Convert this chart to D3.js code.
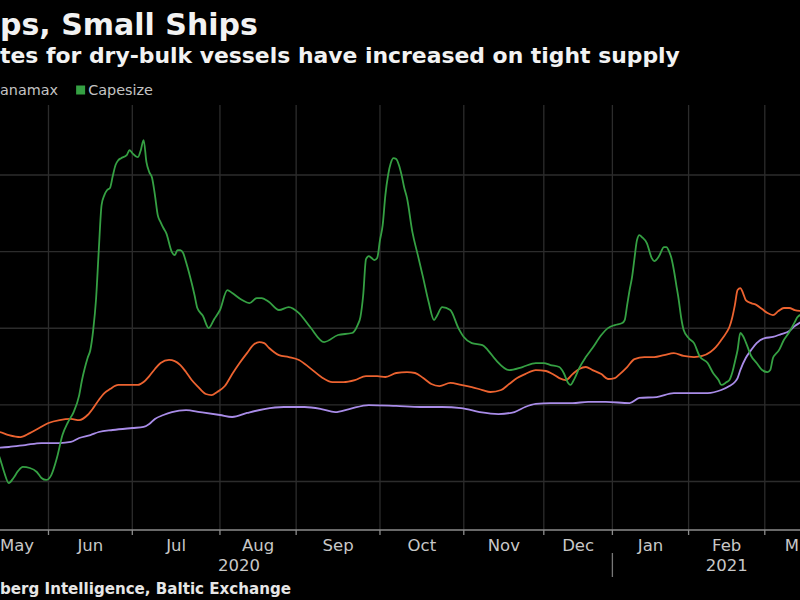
<!DOCTYPE html>
<html><head><meta charset="utf-8">
<script src="https://cdn.jsdelivr.net/npm/d3@7"></script>
<style>html,body{margin:0;padding:0;background:#000;overflow:hidden}svg{display:block}</style>
</head><body><svg id="c" width="800" height="600"></svg>
<script>
// ---- texts (visible part of the cropped chart) ----
const titleText = "ps, Small Ships";
const subtitleText = "tes for dry-bulk vessels have increased on tight supply";
const legendItems = [{name: "anamax", key: "panamax", swatch: false}, {name: "Capesize", key: "capesize", swatch: true}];
const sourceText = "berg Intelligence, Baltic Exchange";

// ---- x axis: month breakpoints and number of trading days to the next breakpoint ----
const axisBreaks = ["2020-03-19","2020-04-01","2020-05-01","2020-06-01","2020-07-01","2020-08-01","2020-09-01",
  "2020-10-01","2020-11-01","2020-12-01","2021-01-01","2021-02-01","2021-03-01","2021-03-29"];
const tradingDays = [9,20,19,22,23,20,22,22,21,18,20,20,20];
const yearSeparators = ["2021-01-01"];

// ---- y grid values (USD/day) ----
const yTicks = [5000,10000,15000,20000,25000];

// ---- series: [date, USD per day] ----
const supramax = [
["2020-05-08",7190],["2020-05-15",7250],["2020-05-22",7380],["2020-05-29",7510],["2020-06-05",7510],["2020-06-09",7580],
["2020-06-12",7840],["2020-06-16",8030],["2020-06-19",8230],["2020-06-24",8360],["2020-07-01",8490],["2020-07-05",8560],
["2020-07-07",8750],["2020-07-09",9080],["2020-07-12",9340],["2020-07-15",9530],["2020-07-20",9660],["2020-07-25",9530],
["2020-08-01",9340],["2020-08-06",9210],["2020-08-12",9470],["2020-08-19",9730],["2020-08-27",9860],["2020-09-04",9860],
["2020-09-10",9730],["2020-09-15",9530],["2020-09-20",9730],["2020-09-27",9990],["2020-10-07",9930],["2020-10-16",9860],
["2020-10-24",9860],["2020-10-31",9790],["2020-11-07",9530],["2020-11-14",9400],["2020-11-20",9530],["2020-11-24",9860],
["2020-11-28",10060],["2020-12-04",10120],["2020-12-14",10120],["2020-12-21",10190],["2020-12-29",10190],["2021-01-08",10120],
["2021-01-12",10450],["2021-01-19",10510],["2021-01-26",10770],["2021-02-01",10770],["2021-02-08",10770],["2021-02-13",10970],
["2021-02-16",11230],["2021-02-18",11490],["2021-02-19",11750],["2021-02-20",12270],["2021-02-22",13060],["2021-02-24",13580],
["2021-02-26",14030],["2021-03-01",14360],["2021-03-04",14430],["2021-03-07",14620],["2021-03-10",14820],["2021-03-12",15140],
["2021-03-15",15470]];

const panamax = [
["2020-05-08",8290],["2020-05-11",8230],["2020-05-15",8030],["2020-05-20",7900],["2020-05-24",8160],["2020-05-28",8490],
["2020-06-01",8820],["2020-06-05",9010],["2020-06-09",9080],["2020-06-12",9010],["2020-06-15",9340],["2020-06-17",9790],
["2020-06-19",10320],["2020-06-21",10770],["2020-06-23",11030],["2020-06-26",11300],["2020-06-30",11300],["2020-07-03",11300],
["2020-07-05",11490],["2020-07-07",11880],["2020-07-09",12340],["2020-07-11",12730],["2020-07-14",12930],["2020-07-16",12860],
["2020-07-18",12600],["2020-07-20",12140],["2020-07-22",11620],["2020-07-24",11230],["2020-07-27",10710],["2020-07-29",10640],
["2020-07-31",10840],["2020-08-03",11230],["2020-08-06",12010],["2020-08-09",12730],["2020-08-12",13380],["2020-08-15",13970],
["2020-08-17",14100],["2020-08-19",14030],["2020-08-21",13710],["2020-08-25",13250],["2020-08-29",13120],["2020-09-02",12930],
["2020-09-06",12400],["2020-09-10",11820],["2020-09-14",11490],["2020-09-18",11490],["2020-09-22",11620],["2020-09-26",11880],
["2020-09-30",11880],["2020-10-03",11820],["2020-10-07",12080],["2020-10-11",12140],["2020-10-14",12080],["2020-10-17",11750],
["2020-10-20",11360],["2020-10-23",11230],["2020-10-27",11430],["2020-10-31",11300],["2020-11-04",11160],["2020-11-08",10970],
["2020-11-11",10840],["2020-11-15",10970],["2020-11-18",11360],["2020-11-21",11750],["2020-11-24",12010],["2020-11-28",12270],
["2020-12-02",12210],["2020-12-05",12010],["2020-12-08",11750],["2020-12-11",11620],["2020-12-14",12010],["2020-12-17",12340],
["2020-12-20",12470],["2020-12-23",12270],["2020-12-27",12010],["2020-12-30",11690],["2021-01-02",11750],["2021-01-04",12010],
["2021-01-07",12470],["2021-01-10",12990],["2021-01-14",13120],["2021-01-18",13120],["2021-01-22",13250],["2021-01-26",13380],
["2021-01-30",13190],["2021-02-03",13120],["2021-02-06",13190],["2021-02-09",13450],["2021-02-11",13770],["2021-02-13",14230],
["2021-02-15",14750],["2021-02-16",15080],["2021-02-17",15670],["2021-02-18",16510],["2021-02-19",17490],["2021-02-20",17620],
["2021-02-21",17300],["2021-02-22",16840],["2021-02-24",16640],["2021-02-26",16510],["2021-02-28",16250],["2021-03-02",15990],
["2021-03-04",15860],["2021-03-06",16120],["2021-03-08",16320],["2021-03-10",16320],["2021-03-12",16190],["2021-03-15",16120]];

const capesize = [
["2020-05-08",7380],["2020-05-11",6600],["2020-05-13",5620],["2020-05-15",4900],["2020-05-17",5230],["2020-05-19",5690],
["2020-05-21",5950],["2020-05-24",5880],["2020-05-27",5620],["2020-05-29",5230],["2020-05-31",5100],["2020-06-02",5420],
["2020-06-04",6530],["2020-06-06",8030],["2020-06-08",8880],["2020-06-10",9530],["2020-06-12",10640],["2020-06-13",11620],
["2020-06-14",12400],["2020-06-15",13060],["2020-06-16",13600],["2020-06-17",14880],["2020-06-18",16840],["2020-06-19",20100],
["2020-06-20",23040],["2020-06-21",23690],["2020-06-22",24020],["2020-06-23",24150],["2020-06-24",24930],["2020-06-25",25650],
["2020-06-26",25970],["2020-06-27",26100],["2020-06-29",26300],["2020-06-30",26620],["2020-07-01",26430],["2020-07-03",26170],
["2020-07-04",26620],["2020-07-05",27280],["2020-07-06",25840],["2020-07-07",25190],["2020-07-08",24800],["2020-07-09",23690],
["2020-07-10",22380],["2020-07-11",21930],["2020-07-12",21540],["2020-07-13",21210],["2020-07-15",19970],["2020-07-16",19770],
["2020-07-17",20100],["2020-07-18",20100],["2020-07-19",19900],["2020-07-20",19320],["2020-07-21",18670],["2020-07-22",17950],
["2020-07-23",17170],["2020-07-24",16320],["2020-07-26",15800],["2020-07-28",15010],["2020-07-30",15600],["2020-08-01",16190],
["2020-08-04",17490],["2020-08-06",17300],["2020-08-10",16840],["2020-08-13",16640],["2020-08-16",16970],["2020-08-18",16970],
["2020-08-21",16710],["2020-08-25",16190],["2020-08-29",16380],["2020-09-02",15990],["2020-09-06",15080],["2020-09-11",14100],
["2020-09-16",14560],["2020-09-21",14690],["2020-09-23",15210],["2020-09-24",15730],["2020-09-25",17170],["2020-09-26",19510],
["2020-09-27",19710],["2020-09-28",19580],["2020-09-29",19450],["2020-09-30",19580],["2020-10-01",20750],["2020-10-02",21730],
["2020-10-03",23690],["2020-10-04",24990],["2020-10-05",25780],["2020-10-06",26100],["2020-10-07",26040],["2020-10-08",25650],
["2020-10-09",24990],["2020-10-10",24150],["2020-10-11",23490],["2020-10-13",21270],["2020-10-15",19770],["2020-10-17",18270],
["2020-10-19",16710],["2020-10-21",15530],["2020-10-22",15790],["2020-10-24",16380],["2020-10-27",16190],["2020-10-30",15010],
["2020-11-01",14430],["2020-11-04",14030],["2020-11-08",13900],["2020-11-10",13580],["2020-11-13",12930],["2020-11-18",12270],
["2020-11-23",12470],["2020-11-28",12730],["2020-12-01",12730],["2020-12-04",12600],["2020-12-08",12470],["2020-12-10",12080],
["2020-12-12",11430],["2020-12-13",11300],["2020-12-15",11750],["2020-12-17",12400],["2020-12-20",13120],["2020-12-23",13710],
["2020-12-27",14560],["2020-12-30",15010],["2021-01-02",15210],["2021-01-05",15340],["2021-01-06",15530],["2021-01-07",16510],
["2021-01-08",17490],["2021-01-09",18340],["2021-01-10",19580],["2021-01-11",20750],["2021-01-12",21080],["2021-01-13",20950],
["2021-01-15",20560],["2021-01-17",19580],["2021-01-18",19380],["2021-01-20",19710],["2021-01-22",20300],["2021-01-23",20300],
["2021-01-24",20040],["2021-01-25",19580],["2021-01-26",18800],["2021-01-27",17820],["2021-01-28",16840],["2021-01-29",15670],
["2021-01-30",14880],["2021-02-01",14360],["2021-02-03",14030],["2021-02-05",13190],["2021-02-08",12730],["2021-02-10",12080],
["2021-02-12",11620],["2021-02-13",11300],["2021-02-15",11490],["2021-02-16",11620],["2021-02-17",12080],["2021-02-18",12800],
["2021-02-19",13580],["2021-02-20",14690],["2021-02-21",14490],["2021-02-22",14100],["2021-02-24",13190],["2021-02-26",12730],
["2021-02-28",12270],["2021-03-02",12140],["2021-03-03",12270],["2021-03-04",13060],["2021-03-05",13320],["2021-03-06",13510],
["2021-03-08",14230],["2021-03-10",14750],["2021-03-12",15400],["2021-03-13",15730],["2021-03-15",15930]];

const seriesList = [
  {key: "supramax", data: supramax, color: "#a98ce8"},
  {key: "panamax", data: panamax, color: "#ec6330"},
  {key: "capesize", data: capesize, color: "#35a043"}
];

// ---- layout ----
const W = 800, H = 600;
const plot = {left: -134.4, right: 841, top: 105, bottom: 530};
const parse = d3.utcParse("%Y-%m-%d");
const svg = d3.select("#c");
svg.append("rect").attr("width", W).attr("height", H).attr("fill", "#000");

const breaks = axisBreaks.map(parse);
const cum = [0];
tradingDays.forEach(d => cum.push(cum[cum.length - 1] + d));
const total = cum[cum.length - 1];
const x = d3.scaleUtc().domain(breaks)
  .range(cum.map(c => plot.left + c / total * (plot.right - plot.left)));
const y = d3.scaleLinear().domain([5000, 25000]).range([481.5, 175]);

const gridColor = "#2c2c2c";
// horizontal grid
svg.append("g").selectAll("line").data(yTicks).join("line")
  .attr("x1", plot.left).attr("x2", plot.right)
  .attr("y1", d => y(d)).attr("y2", d => y(d))
  .attr("stroke", gridColor).attr("stroke-width", 1.3);

const monthStarts = breaks.slice(1, -1);
// vertical grid
svg.append("g").selectAll("line").data(monthStarts).join("line")
  .attr("x1", d => x(d)).attr("x2", d => x(d))
  .attr("y1", plot.top).attr("y2", plot.bottom)
  .attr("stroke", gridColor).attr("stroke-width", 1.3);

// lines
const line = d3.line().x(d => x(parse(d[0]))).y(d => y(d[1])).curve(d3.curveMonotoneX);
svg.append("g").selectAll("path").data(seriesList).join("path")
  .attr("d", s => line(s.data)).attr("fill", "none")
  .attr("stroke", s => s.color).attr("stroke-width", 1.8)
  .attr("stroke-linejoin", "round");

// x axis line and ticks
const axisColor = "#8c8c8c";
svg.append("line").attr("x1", plot.left).attr("x2", plot.right)
  .attr("y1", plot.bottom).attr("y2", plot.bottom)
  .attr("stroke", axisColor).attr("stroke-width", 1.6);
svg.append("g").selectAll("line").data(monthStarts).join("line")
  .attr("x1", d => x(d)).attr("x2", d => x(d))
  .attr("y1", plot.bottom).attr("y2", plot.bottom + 5)
  .attr("stroke", axisColor).attr("stroke-width", 1.3);
svg.append("g").selectAll("line").data(yearSeparators.map(parse)).join("line")
  .attr("x1", d => x(d)).attr("x2", d => x(d))
  .attr("y1", plot.bottom + 23).attr("y2", plot.bottom + 47)
  .attr("stroke", "#777").attr("stroke-width", 1.3);

// month labels (those that reach into the canvas; fitted inside its edges)
const fmtMonth = d3.utcFormat("%b");
const monthSegs = d3.range(1, breaks.length - 1)
  .map(i => ({start: breaks[i], end: breaks[i + 1], cx: (x(breaks[i]) + x(breaks[i + 1])) / 2}))
  .filter(d => d.cx + 15 >= 0 && d.cx - 15 <= W);
const mLabels = svg.append("g").selectAll("text").data(monthSegs).join("text")
  .attr("x", d => d.cx).attr("y", plot.bottom + 21)
  .attr("text-anchor", "middle").attr("fill", "#c8c8c8")
  .attr("font-family", "DejaVu Sans").attr("font-size", 16.5)
  .text(d => fmtMonth(d.start));
mLabels.each(function(d) {
  const t = d3.select(this);
  let full = fmtMonth(d.start);
  const w = this.getComputedTextLength();
  const left = d.cx - w / 2;
  if (left < 0) { t.attr("text-anchor", "start").attr("x", 0); return; }
  if (left + w > W - 1) {
    t.attr("text-anchor", "start").attr("x", left);
    while (full.length > 1 && left + this.getComputedTextLength() > W - 1) {
      full = full.slice(0, -1);
      t.text(full);
    }
    if (left + this.getComputedTextLength() > W - 1) t.attr("x", W - 1 - this.getComputedTextLength());
  }
});

// year labels
const years = d3.range(breaks[0].getUTCFullYear(), breaks[breaks.length - 1].getUTCFullYear() + 1);
svg.append("g").selectAll("text").data(years).join("text")
  .attr("x", yr => {
    const a = Math.max(x(Date.UTC(yr, 0, 1)), plot.left);
    const b = Math.min(x(Date.UTC(yr + 1, 0, 1)), plot.right);
    return (a + b) / 2;
  })
  .attr("y", plot.bottom + 41).attr("text-anchor", "middle").attr("fill", "#c8c8c8")
  .attr("font-family", "DejaVu Sans").attr("font-size", 16.5)
  .text(yr => yr);

// title, subtitle
svg.append("text").attr("x", 0).attr("y", 35).attr("fill", "#f2f2f2")
  .attr("font-family", "DejaVu Sans").attr("font-weight", "bold").attr("font-size", 30)
  .text(titleText);
svg.append("text").attr("x", 0).attr("y", 63).attr("fill", "#f2f2f2")
  .attr("font-family", "DejaVu Sans").attr("font-weight", "bold").attr("font-size", 21.9)
  .text(subtitleText);

// legend
const colorOf = Object.fromEntries(seriesList.map(s => [s.key, s.color]));
const lg = svg.append("g").attr("font-family", "DejaVu Sans").attr("font-size", 14.4).attr("fill", "#c4c4c4");
let lx = 0;
legendItems.forEach(it => {
  if (it.swatch) {
    lg.append("rect").attr("x", lx).attr("y", 85.5).attr("width", 9).attr("height", 9).attr("fill", colorOf[it.key]);
    lx += 12;
  }
  const t = lg.append("text").attr("x", lx).attr("y", 95).text(it.name);
  lx += t.node().getComputedTextLength() + 18;
});

// source
svg.append("text").attr("x", 0).attr("y", 594).attr("fill", "#e6e6e6")
  .attr("font-family", "DejaVu Sans").attr("font-weight", "bold").attr("font-size", 15.1)
  .text(sourceText);
</script></body></html>
